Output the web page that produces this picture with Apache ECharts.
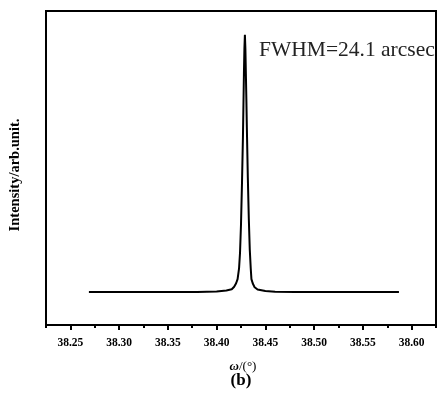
<!DOCTYPE html>
<html>
<head>
<meta charset="utf-8">
<script src="https://cdn.jsdelivr.net/npm/echarts@6/dist/echarts.min.js"></script>
<style>html,body{margin:0;padding:0;background:#fff;}#c{width:438px;height:395px;}</style>
</head>
<body>
<div id="c"></div>
<script>
// omega (deg) and intensity (arb. unit)
const omega = [38.269, 38.30, 38.35, 38.38, 38.40, 38.41, 38.4155, 38.418, 38.420, 38.4215, 38.423, 38.424, 38.425, 38.426, 38.427, 38.4275, 38.428, 38.4285, 38.429, 38.4295, 38.430, 38.4305, 38.431, 38.432, 38.433, 38.434, 38.435, 38.4357, 38.437, 38.439, 38.442, 38.45, 38.46, 38.48, 38.52, 38.587];
const intensity = [10.5, 10.5, 10.5, 10.5, 10.7, 11.0, 11.4, 12.2, 13.3, 14.6, 18, 23, 32, 45, 60, 70, 80, 88, 92.4, 88, 80, 72, 63, 47, 34, 24, 18, 14.6, 13.3, 12.0, 11.3, 10.8, 10.6, 10.5, 10.5, 10.5];
const majorTicks = [38.25, 38.30, 38.35, 38.40, 38.45, 38.50, 38.55, 38.60];
const minorTicks = [38.225, 38.275, 38.325, 38.375, 38.425, 38.475, 38.525, 38.575, 38.625];
const annotation = 'FWHM=24.1 arcsec';
const yTitle = 'Intensity/arb.unit.';

const chart = echarts.init(document.getElementById('c'));
const serif = 'Liberation Serif';
chart.setOption({
  animation: false,
  grid: {left: 46, right: 2, top: 11, bottom: 70, show: true, borderColor: '#000', borderWidth: 2, containLabel: false},
  xAxis: [{
    type: 'value', min: 38.225, max: 38.625,
    axisLine: {show: true, lineStyle: {color: '#000', width: 2}},
    axisTick: {show: true, customValues: majorTicks, length: 5, lineStyle: {color: '#000', width: 2}},
    axisLabel: {show: true, customValues: majorTicks, formatter: v => v.toFixed(2), fontFamily: serif, fontWeight: 'bold', fontSize: 11.5, color: '#000', margin: 12},
    splitLine: {show: false}
  }, {
    type: 'value', min: 38.225, max: 38.625, position: 'bottom',
    axisLine: {show: false},
    axisTick: {show: true, customValues: minorTicks, length: 3, lineStyle: {color: '#000', width: 2}},
    axisLabel: {show: false},
    splitLine: {show: false}
  }],
  yAxis: {
    type: 'value', min: 0, max: 100,
    axisLine: {show: true, lineStyle: {color: '#000', width: 2}},
    axisTick: {show: false}, axisLabel: {show: false}, splitLine: {show: false}
  },
  graphic: [
    {type: 'text', x: 15, y: 175, rotation: Math.PI / 2, style: {text: yTitle, font: 'bold 14.5px "Liberation Serif"', fill: '#000', align: 'center', verticalAlign: 'middle'}},
    {type: 'text', x: 259, y: 39, style: {text: annotation, font: '21.5px "Liberation Serif"', fill: '#222'}},
    {type: 'text', x: 243, y: 367, style: {text: '{i|ω}{n|/(°)}', align: 'center', verticalAlign: 'middle',
      rich: {i: {font: 'italic bold 13px "Liberation Serif"', fill: '#000'}, n: {font: '13px "Liberation Serif"', fill: '#000'}}}},
    {type: 'text', x: 241, y: 381, style: {text: '(b)', font: 'bold 17px "Liberation Serif"', fill: '#000', align: 'center', verticalAlign: 'middle'}}
  ],
  series: [{
    type: 'line', xAxisIndex: 0, data: omega.map((x, i) => [x, intensity[i]]),
    showSymbol: false, lineStyle: {color: '#000', width: 2}, smooth: false
  }]
});
</script>
</body>
</html>
